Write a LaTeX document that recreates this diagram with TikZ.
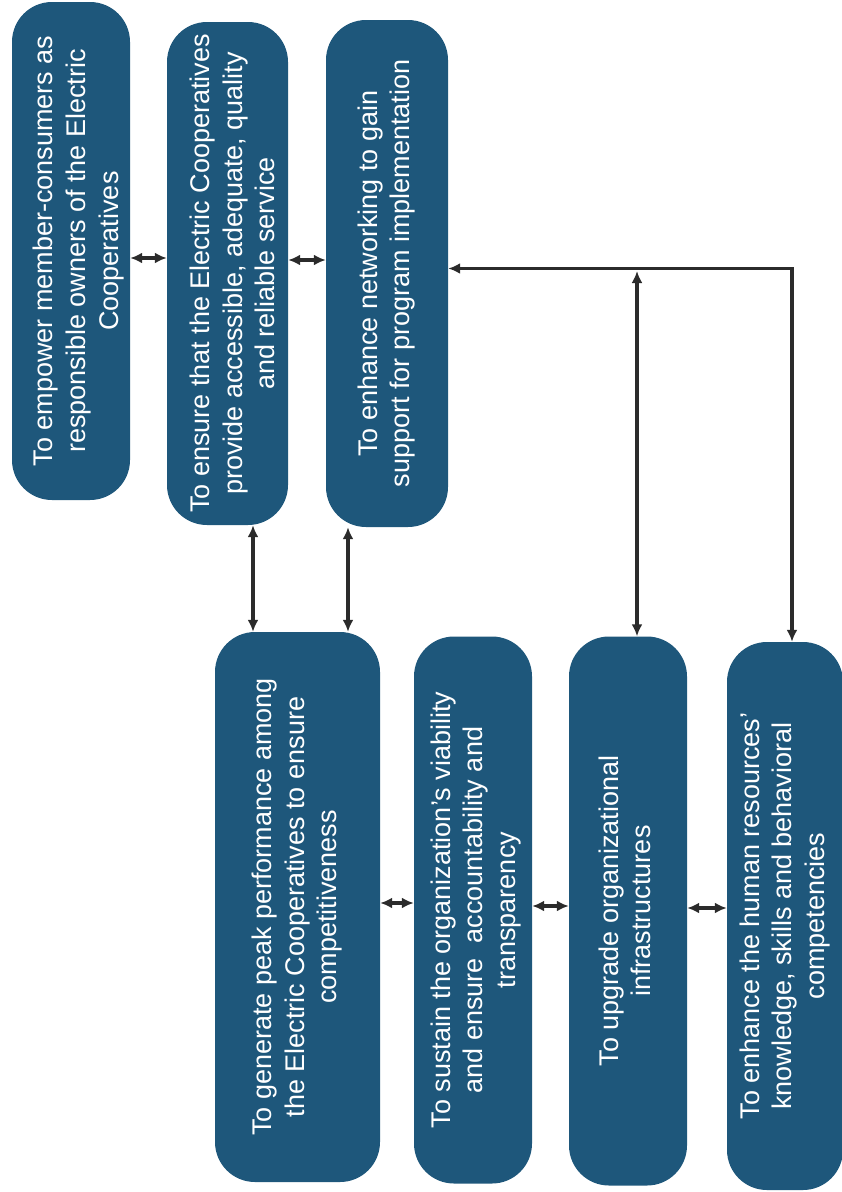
\documentclass[tikz,border=0pt]{standalone}
\usepackage{fontspec}
\setmainfont{Liberation Sans}
\usepackage{graphicx}
\usetikzlibrary{arrows.meta}
\definecolor{goal-blue}{HTML}{1E577B}
\definecolor{link-gray}{HTML}{2B2B2B}
\newcommand{\goaltext}[2][0pt]{\rotatebox{90}{\raisebox{-#1}[\height][\depth]{\begin{tabular}{@{}c@{}}#2\end{tabular}}}}

\begin{document}
\begin{tikzpicture}[x=1pt,y=-1pt,>={Latex[length=12pt,width=11pt]},
  goalbox/.style={fill=goal-blue,rounded corners=40pt,inner sep=0pt,text=white,
    font=\fontsize{27}{32.5}\selectfont},
  link/.style={<->,draw=link-gray,line width=3.2pt}]
  \useasboundingbox (0,0) rectangle (842,1192);
  % top row
  \node[goalbox,minimum width=118pt,minimum height=498pt] (empower) at (71,251)
    {\goaltext[8pt]{To empower member-consumers as\\responsible owners of the Electric\\Cooperatives}};
  \node[goalbox,minimum width=121pt,minimum height=503pt] (ensure) at (227.5,273.5)
    {\goaltext[8pt]{To ensure that the Electric Cooperatives\\provide accessible, adequate, quality\\and reliable service}};
  \node[goalbox,minimum width=122pt,minimum height=507pt] (network) at (387,273.5)
    {\goaltext{To enhance networking to gain\\support for program implementation}};
  % bottom row
  \node[goalbox,minimum width=165pt,minimum height=550pt] (generate) at (297.5,907)
    {\goaltext{To generate peak performance among\\the Electric Cooperatives to ensure\\competitiveness}};
  \node[goalbox,minimum width=118pt,minimum height=547pt] (sustain) at (473,910)
    {\goaltext[3pt]{To sustain the organization’s viability\\and ensure\ \ accountability and\\transparency}};
  \node[goalbox,minimum width=118pt,minimum height=549pt] (upgrade) at (628,911)
    {\goaltext{To upgrade organizational\\infrastructures}};
  \node[goalbox,minimum width=116pt,minimum height=548pt] (humanres) at (785,916)
    {\goaltext{To enhance the human resources’\\knowledge, skills and behavioral\\competencies}};
  % links
  \draw[link] ([yshift=-7pt]empower.east) -- ([yshift=-7pt]empower.east -| ensure.west);
  \draw[link] ([yshift=13.5pt]ensure.east) -- ([yshift=13.5pt]ensure.east -| network.west);
  \draw[link] ([yshift=5pt]network.east) -| ([xshift=7pt]humanres.north);
  \coordinate (tee) at (637,271);
  \draw[link] (tee) -- (tee |- upgrade.north);
  \draw[link] ([xshift=25.5pt]ensure.south) -- ([xshift=25.5pt]ensure.south |- generate.north);
  \draw[link] ([xshift=-39pt]network.south) -- ([xshift=-39pt]network.south |- generate.north);
  \draw[link] ([yshift=4pt]generate.east) -- ([yshift=4pt]generate.east -| sustain.west);
  \draw[link] ([yshift=4pt]sustain.east) -- ([yshift=4pt]sustain.east -| upgrade.west);
  \draw[link] ([yshift=3pt]upgrade.east) -- ([yshift=3pt]upgrade.east -| humanres.west);
\end{tikzpicture}
\end{document}
